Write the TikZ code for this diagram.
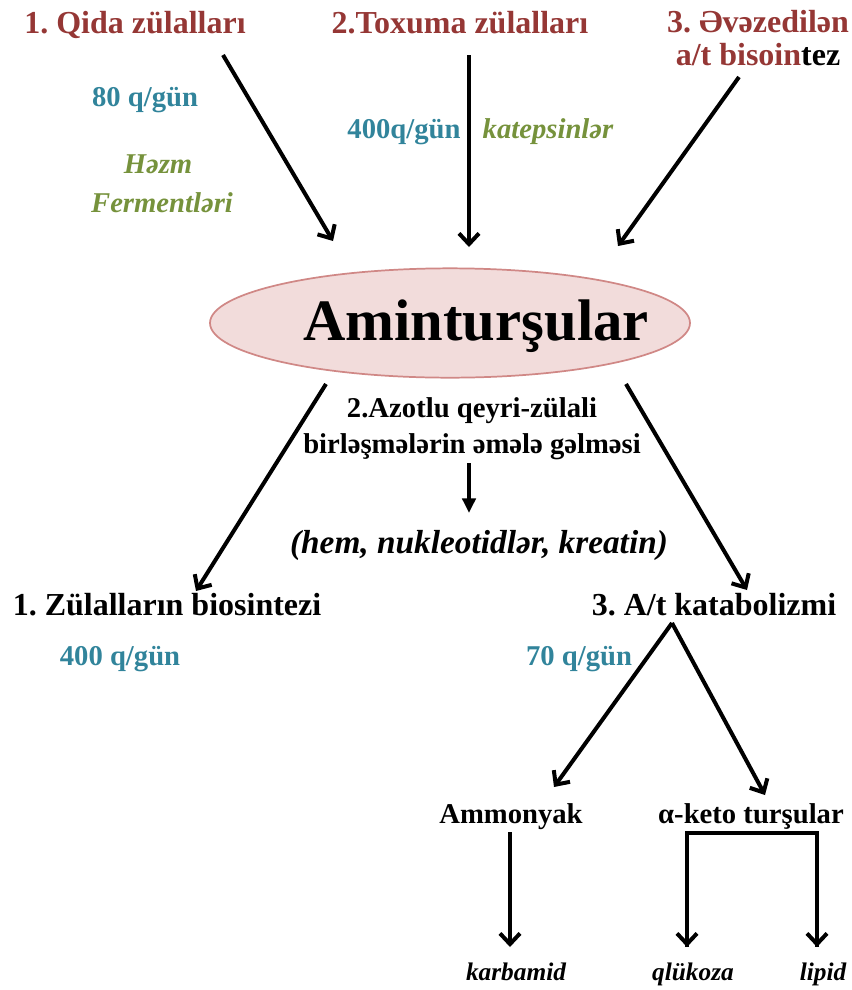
\documentclass[tikz,border=0pt]{standalone}
\usepackage{fontspec}
\setmainfont{Liberation Serif}
\usetikzlibrary{arrows.meta,shapes.geometric}
\definecolor{titred}{HTML}{953735}
\definecolor{numteal}{HTML}{31849B}
\definecolor{enzgreen}{HTML}{76923C}
\definecolor{ellfill}{HTML}{F2DCDB}
\definecolor{elldraw}{HTML}{D08886}
\frenchspacing
\tikzset{
  txt/.style={anchor=base,inner sep=0pt,align=center},
  title/.style={txt,font=\fontsize{24}{28}\selectfont\bfseries,text=titred},
  blk/.style={txt,font=\fontsize{24}{28}\selectfont\bfseries,text=black},
  mid/.style={txt,font=\fontsize{21.5}{25}\selectfont\bfseries,text=black},
  num/.style={txt,font=\fontsize{21.5}{25}\selectfont\bfseries,text=numteal},
  enz/.style={txt,font=\fontsize{21.5}{25}\selectfont\bfseries\itshape,text=enzgreen},
  prod/.style={txt,font=\fontsize{19}{22}\selectfont\bfseries\itshape,text=black},
  arr/.style={line width=3pt,-{Straight Barb[length=8pt,width=15pt]}},
  thinarr/.style={line width=2.6pt,-{Triangle[length=11pt,width=10pt]}},
  brk/.style={line width=3pt}
}
\begin{document}
\begin{tikzpicture}[x=0.75pt,y=-0.75pt]
\useasboundingbox (0,0) rectangle (852,990);
% top sources
\node[title] (qida) at (135,33) {1. Qida zülalları};
\node[title] (toxuma) at (460,33) {2.Toxuma zülalları};
\node[title] (evez1) at (758,32) {3. Əvəzedilən};
\node[title] (evez2) at (758,65) {a/t bisoin{\color{black}tez}};
\node[num] (n80) at (145,106) {80 q/gün};
\node[enz] (hezm) at (158,173) {Həzm};
\node[enz] (ferm) at (162,212) {Fermentləri};
\node[num] (n400a) at (404,138) {400q/gün};
\node[enz] (katep) at (548,138) {katepsinlər};
% central ellipse
\node[ellipse,draw=elldraw,line width=1.3pt,fill=ellfill,minimum width=360pt,minimum height=82pt,inner sep=0pt] (ell) at (450,323) {};
\node[txt,font=\fontsize{44}{50}\selectfont\bfseries] (amin) at (476,340) {Aminturşular};
% middle
\node[mid] (azot1) at (472,417) {2.Azotlu qeyri-zülali};
\node[mid] (azot2) at (472,453) {birləşmələrin əmələ gəlməsi};
\node[txt,font=\fontsize{25}{29}\selectfont\bfseries\itshape] (hem) at (479,553) {(hem, nukleotidlər, kreatin)};
\node[blk] (bios) at (167,615) {1. Zülalların biosintezi};
\node[num] (n400b) at (120,665) {400 q/gün};
\node[blk] (katab) at (714,615) {3. A/t katabolizmi};
\node[num] (n70) at (579,665) {70 q/gün};
\node[mid] (ammon) at (511,823) {Ammonyak};
\node[mid] (keto) at (751,823) {α-keto turşular};
\node[prod] (karb) at (516,980) {karbamid};
\node[prod] (qluk) at (693,980) {qlükoza};
\node[prod] (lipid) at (823,980) {lipid};
% connector end points
\coordinate (a1s) at (223,55);  \coordinate (a1e) at (333,241);
\coordinate (a2s) at (469,55);  \coordinate (a2e) at (469,247);
\coordinate (a3s) at (739,77);  \coordinate (a3e) at (618,246);
\coordinate (l1s) at (326,384); \coordinate (l1e) at (196,591);
\coordinate (r1s) at (626,384); \coordinate (r1e) at (747,590);
\coordinate (ms) at (469,463);  \coordinate (me) at (469,513);
\coordinate (apex) at (672,623);
\coordinate (tle) at (554,787); \coordinate (tre) at (765,795);
\coordinate (ams) at (510,832); \coordinate (ame) at (510,947);
\coordinate (bl) at (687,833);  \coordinate (br) at (817,833);
\coordinate (ble) at (687,947); \coordinate (bre) at (817,947);
% connectors
\draw[arr] (a1s) -- (a1e);
\draw[arr] (a2s) -- (a2e);
\draw[arr] (a3s) -- (a3e);
\draw[arr] (l1s) -- (l1e);
\draw[arr] (r1s) -- (r1e);
\draw[thinarr] (ms) -- (me);
\draw[arr] (apex) -- (tle);
\draw[arr] (apex) -- (tre);
\draw[arr] (ams) -- (ame);
\draw[brk,line join=miter] (ble) -- (bl) -- (br) -- (bre);
\draw[arr] (bl) -- (ble);
\draw[arr] (br) -- (bre);
\end{tikzpicture}
\end{document}
